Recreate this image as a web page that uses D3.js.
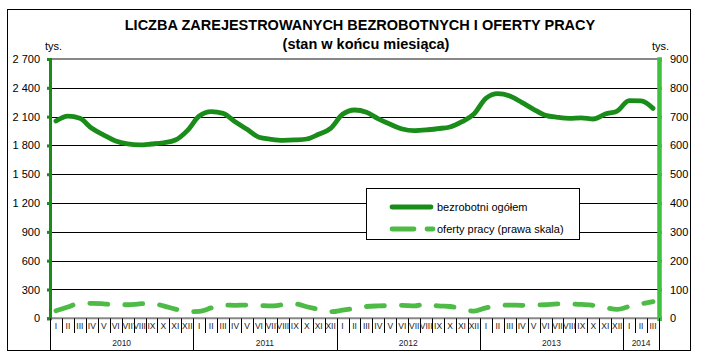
<!DOCTYPE html>
<html><head><meta charset="utf-8">
<script src="https://cdn.jsdelivr.net/npm/d3@7"></script>
<style>
html,body{margin:0;padding:0;background:#fff;}
svg{display:block;font-family:"Liberation Sans",Arial,sans-serif;}
</style></head>
<body><svg id="c" width="705" height="364"></svg>
<script>
const title = "LICZBA ZAREJESTROWANYCH BEZROBOTNYCH I OFERTY PRACY";
const subtitle = "(stan w końcu miesiąca)";
const unitLabel = "tys.";
const monthLabels = ["I","II","III","IV","V","VI","VII","VIII","IX","X","XI","XII"];
const years = ["2010","2011","2012","2013","2014"];
const yearMonthCounts = [12,12,12,12,3];
const seriesNames = ["bezrobotni ogółem","oferty pracy (prawa skala)"];
const bezrobotni = [
  2054,2106,2082,1978,1908,1846,1815,1805,1815,1828,1856,1954,
  2106,2151,2134,2047,1968,1885,1864,1853,1857,1867,1916,1978,
  2124,2169,2145,2077,2020,1971,1954,1961,1975,1992,2047,2127,
  2290,2339,2315,2249,2176,2113,2093,2082,2086,2075,2127,2158,
  2266,2263,2186];
const oferty = [
  26,39,52,52,50,47,47,50,52,43,32,23,
  24,36,46,45,46,45,43,47,50,40,31,23,
  28,34,41,43,44,45,43,50,43,41,32,25,
  36,43,46,45,46,47,50,50,48,45,37,31,
  41,50,58];
const leftTicks = [0,300,600,900,1200,1500,1800,2100,2400,2700];
const rightTicks = [0,100,200,300,400,500,600,700,800,900];

// categories
const cats = [];
years.forEach((y,yi)=>{ for(let m=0;m<yearMonthCounts[yi];m++) cats.push({year:y, month:monthLabels[m], yi}); });

const svg = d3.select("#c");
const L=50, R=659, T=59, B=318.3;
const darkG="#1a8c1a", lightG="#4dbb46", rAxisG="#3fc03f";

const x = d3.scaleBand().domain(d3.range(cats.length)).range([L,R]).padding(0);
const yL = d3.scaleLinear().domain([0,2700]).range([B,T]);
const yR = d3.scaleLinear().domain([0,900]).range([B,T]);
const fmt = d3.formatLocale({decimal:",",thousands:" ",grouping:[3],currency:["",""]}).format(",d");

// outer border
svg.append("rect").attr("x",7.5).attr("y",9.5).attr("width",683).attr("height",341)
  .attr("fill","none").attr("stroke","#000").attr("stroke-width",1);

// title
svg.append("text").attr("x",360).attr("y",30).attr("text-anchor","middle")
  .attr("font-weight","bold").attr("font-size","14.5px").text(title);
svg.append("text").attr("x",366).attr("y",49).attr("text-anchor","middle")
  .attr("font-weight","bold").attr("font-size","14.5px").text(subtitle);
svg.append("text").attr("x",45).attr("y",50).attr("font-size","11px").text(unitLabel);
svg.append("text").attr("x",652).attr("y",50).attr("font-size","11px").text(unitLabel);

// gridlines
svg.append("g").selectAll("line").data(leftTicks.filter(d=>d>0 && d<2700)).join("line")
  .attr("x1",L).attr("x2",R).attr("y1",d=>Math.round(yL(d))+0.5).attr("y2",d=>Math.round(yL(d))+0.5)
  .attr("stroke","#000").attr("stroke-width",1);
svg.append("line").attr("x1",L).attr("x2",R).attr("y1",yL(2700)).attr("y2",yL(2700))
  .attr("stroke","#888").attr("stroke-width",2);
svg.append("line").attr("x1",L).attr("x2",R).attr("y1",yL(0)).attr("y2",yL(0))
  .attr("stroke","#888").attr("stroke-width",2);

// left axis
const gL = svg.append("g").attr("transform",`translate(${L},0)`)
  .call(d3.axisLeft(yL).tickValues(leftTicks).tickFormat(fmt).tickSize(3).tickPadding(7));
gL.select(".domain").attr("stroke",darkG).attr("stroke-width",3);
gL.selectAll(".tick line").attr("stroke",darkG).attr("stroke-width",3);
gL.selectAll(".tick text").attr("font-size","11px").attr("fill","#000").attr("font-family","Liberation Sans, Arial, sans-serif");

// right axis
const gR = svg.append("g").attr("transform",`translate(${R},0)`)
  .call(d3.axisRight(yR).tickValues(rightTicks).tickSize(3).tickPadding(8));
gR.select(".domain").attr("stroke",rAxisG).attr("stroke-width",4.5);
gR.selectAll(".tick line").attr("stroke",rAxisG).attr("stroke-width",3);
gR.selectAll(".tick text").attr("font-size","11px").attr("fill","#000").attr("font-family","Liberation Sans, Arial, sans-serif");

// category axis
const bw = x.bandwidth();
const gX = svg.append("g");
gX.selectAll("line.m").data(d3.range(cats.length+1)).join("line").attr("class","m")
  .attr("x1",i=>Math.round(i<cats.length?x(i):R)+0.5).attr("x2",i=>Math.round(i<cats.length?x(i):R)+0.5)
  .attr("y1",B).attr("y2",i=>{
    if(i===0||i===cats.length) return 350.5;
    return cats[i].yi!==cats[i-1].yi ? 350.5 : 333;
  })
  .attr("stroke","#000").attr("stroke-width",1);
gX.selectAll("text.m").data(cats).join("text").attr("class","m")
  .attr("x",(d,i)=>x(i)+bw/2).attr("y",329).attr("text-anchor","middle")
  .attr("font-size","8.5px").attr("fill","#222").text(d=>d.month);
let start=0;
years.forEach((y,yi)=>{
  const s=start, e=start+yearMonthCounts[yi];
  const x0=x(s), x1=(e<cats.length?x(e):R);
  gX.append("text").attr("x",(x0+x1)/2).attr("y",346).attr("text-anchor","middle")
    .attr("font-size","8.5px").attr("fill","#222").text(y);
  start=e;
});

// series
const cx = i => x(i)+bw/2;
svg.append("path").datum(bezrobotni)
  .attr("d",d3.line().x((d,i)=>cx(i)).y(d=>yL(d)).curve(d3.curveMonotoneX))
  .attr("fill","none").attr("stroke",darkG).attr("stroke-width",4.8)
  .attr("stroke-linejoin","round").attr("stroke-linecap","round");
svg.append("path").datum(oferty)
  .attr("d",d3.line().x((d,i)=>cx(i)).y(d=>yR(d)).curve(d3.curveMonotoneX))
  .attr("fill","none").attr("stroke",lightG).attr("stroke-width",4.8)
  .attr("stroke-dasharray","18,17").attr("stroke-linejoin","round").attr("stroke-linecap","round");

// legend
const lg = svg.append("g");
lg.append("rect").attr("x",366.5).attr("y",188.5).attr("width",213).attr("height",51)
  .attr("fill","#fff").attr("stroke","#000").attr("stroke-width",1);
lg.append("line").attr("x1",392).attr("x2",431).attr("y1",207).attr("y2",207)
  .attr("stroke",darkG).attr("stroke-width",4.8).attr("stroke-linecap","round");
lg.append("line").attr("x1",392).attr("x2",433).attr("y1",229).attr("y2",229)
  .attr("stroke",lightG).attr("stroke-width",4.8).attr("stroke-linecap","round").attr("stroke-dasharray","22,13");
lg.append("text").attr("x",437).attr("y",211).attr("font-size","11px").text(seriesNames[0]);
lg.append("text").attr("x",437).attr("y",233).attr("font-size","11px").text(seriesNames[1]);
</script></body></html>
